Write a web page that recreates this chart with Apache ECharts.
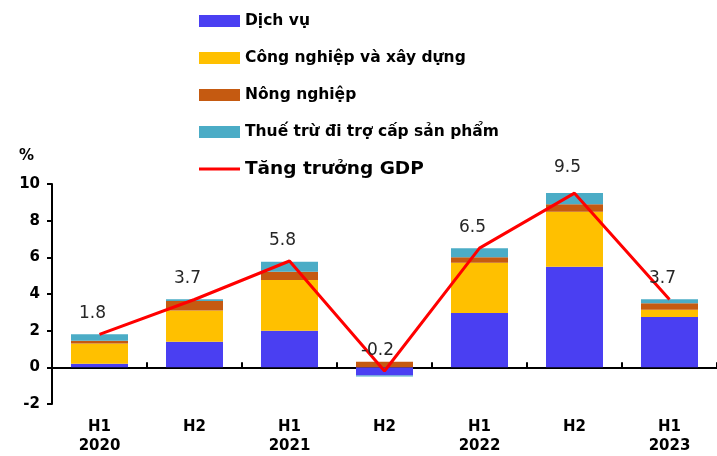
<!DOCTYPE html>
<html>
<head>
<meta charset="utf-8">
<script src="https://cdn.jsdelivr.net/npm/echarts@6/dist/echarts.min.js"></script>
<style>html,body{margin:0;padding:0;background:#fff}#c{width:717px;height:456px}</style>
</head>
<body>
<div id="c"></div>
<script>
const categories = ['H1\n2020', 'H2', 'H1\n2021', 'H2', 'H1\n2022', 'H2', 'H1\n2023'];
const dichVu = [0.2, 1.4, 2.0, -0.45, 2.96, 5.49, 2.74];
const congNghiep = [1.1, 1.7, 2.77, 0.0, 2.75, 2.99, 0.4];
const nongNghiep = [0.15, 0.52, 0.45, 0.31, 0.29, 0.42, 0.36];
const thue = [0.36, 0.1, 0.54, -0.05, 0.49, 0.61, 0.22];
const gdp = [1.8, 3.7, 5.8, -0.2, 6.5, 9.5, 3.7];
const yTicks = { min: -2, max: 10, interval: 2 };

const FONT = 'DejaVu Sans';
const chart = echarts.init(document.getElementById('c'));

function barSeries(name, data, color) {
  return {
    name: name, type: 'bar', stack: 'gdp', data: data, barWidth: 57,
    itemStyle: { color: color }, xAxisIndex: 0
  };
}

chart.setOption({
  animation: false,
  textStyle: { fontFamily: FONT },
  legend: {
    orient: 'vertical', left: 199, top: 11, padding: 0,
    itemWidth: 41, itemHeight: 12, itemGap: 17, icon: 'rect',
    textStyle: { fontFamily: FONT, fontWeight: 'bold', fontSize: 15.5, color: '#000', lineHeight: 20 },
    data: [
      { name: 'Dịch vụ' },
      { name: 'Công nghiệp và xây dựng' },
      { name: 'Nông nghiệp' },
      { name: 'Thuế trừ đi trợ cấp sản phẩm' },
      { name: 'Tăng trưởng GDP', icon: 'path://M0,0 L41,0 L41,3 L0,3 Z',
        textStyle: { fontSize: 18.5, fontWeight: 'bold', lineHeight: 20 } }
    ]
  },
  grid: { left: 52, right: -7, top: 184, bottom: 52 },
  xAxis: [
    {
      type: 'category', data: categories,
      axisLine: { onZero: true, lineStyle: { color: '#000', width: 2 } },
      axisTick: { show: true, inside: true, length: 5, lineStyle: { color: '#000', width: 2 } },
      axisLabel: { show: false }
    },
    {
      type: 'category', data: categories, position: 'bottom',
      axisLine: { show: false, onZero: false }, axisTick: { show: false },
      axisLabel: { fontFamily: FONT, fontWeight: 'bold', fontSize: 15, color: '#000', lineHeight: 19, margin: 14 }
    }
  ],
  yAxis: {
    type: 'value', min: yTicks.min, max: yTicks.max, interval: yTicks.interval,
    name: '%', nameLocation: 'end', nameGap: 20,
    nameTextStyle: { fontFamily: FONT, fontWeight: 'bold', fontSize: 15, color: '#000', align: 'right', padding: [0, 18, 0, 0] },
    axisLine: { show: true, lineStyle: { color: '#000', width: 2 } },
    axisTick: { show: true, length: 5, lineStyle: { color: '#000', width: 2 } },
    splitLine: { show: false },
    axisLabel: { fontFamily: FONT, fontWeight: 'bold', fontSize: 15, color: '#000', margin: 12 }
  },
  series: [
    barSeries('Dịch vụ', dichVu, '#4A3FF2'),
    barSeries('Công nghiệp và xây dựng', congNghiep, '#FFC000'),
    barSeries('Nông nghiệp', nongNghiep, '#C55A11'),
    barSeries('Thuế trừ đi trợ cấp sản phẩm', thue, '#4BACC6'),
    {
      name: 'Tăng trưởng GDP', type: 'line', xAxisIndex: 0,
      data: gdp.map((v, i) => i === 5 ? { value: v, label: { distance: 17 } } : v),
      symbol: 'circle', symbolSize: 0.1, showSymbol: true,
      lineStyle: { color: '#FF0000', width: 3 }, itemStyle: { color: '#FF0000' },
      label: {
        show: true, position: 'top', distance: 12, offset: [-7, 0],
        fontFamily: FONT, fontSize: 17, color: '#262626',
        formatter: p => p.value.toFixed(1)
      },
      z: 5
    }
  ]
});
</script>
</body>
</html>
